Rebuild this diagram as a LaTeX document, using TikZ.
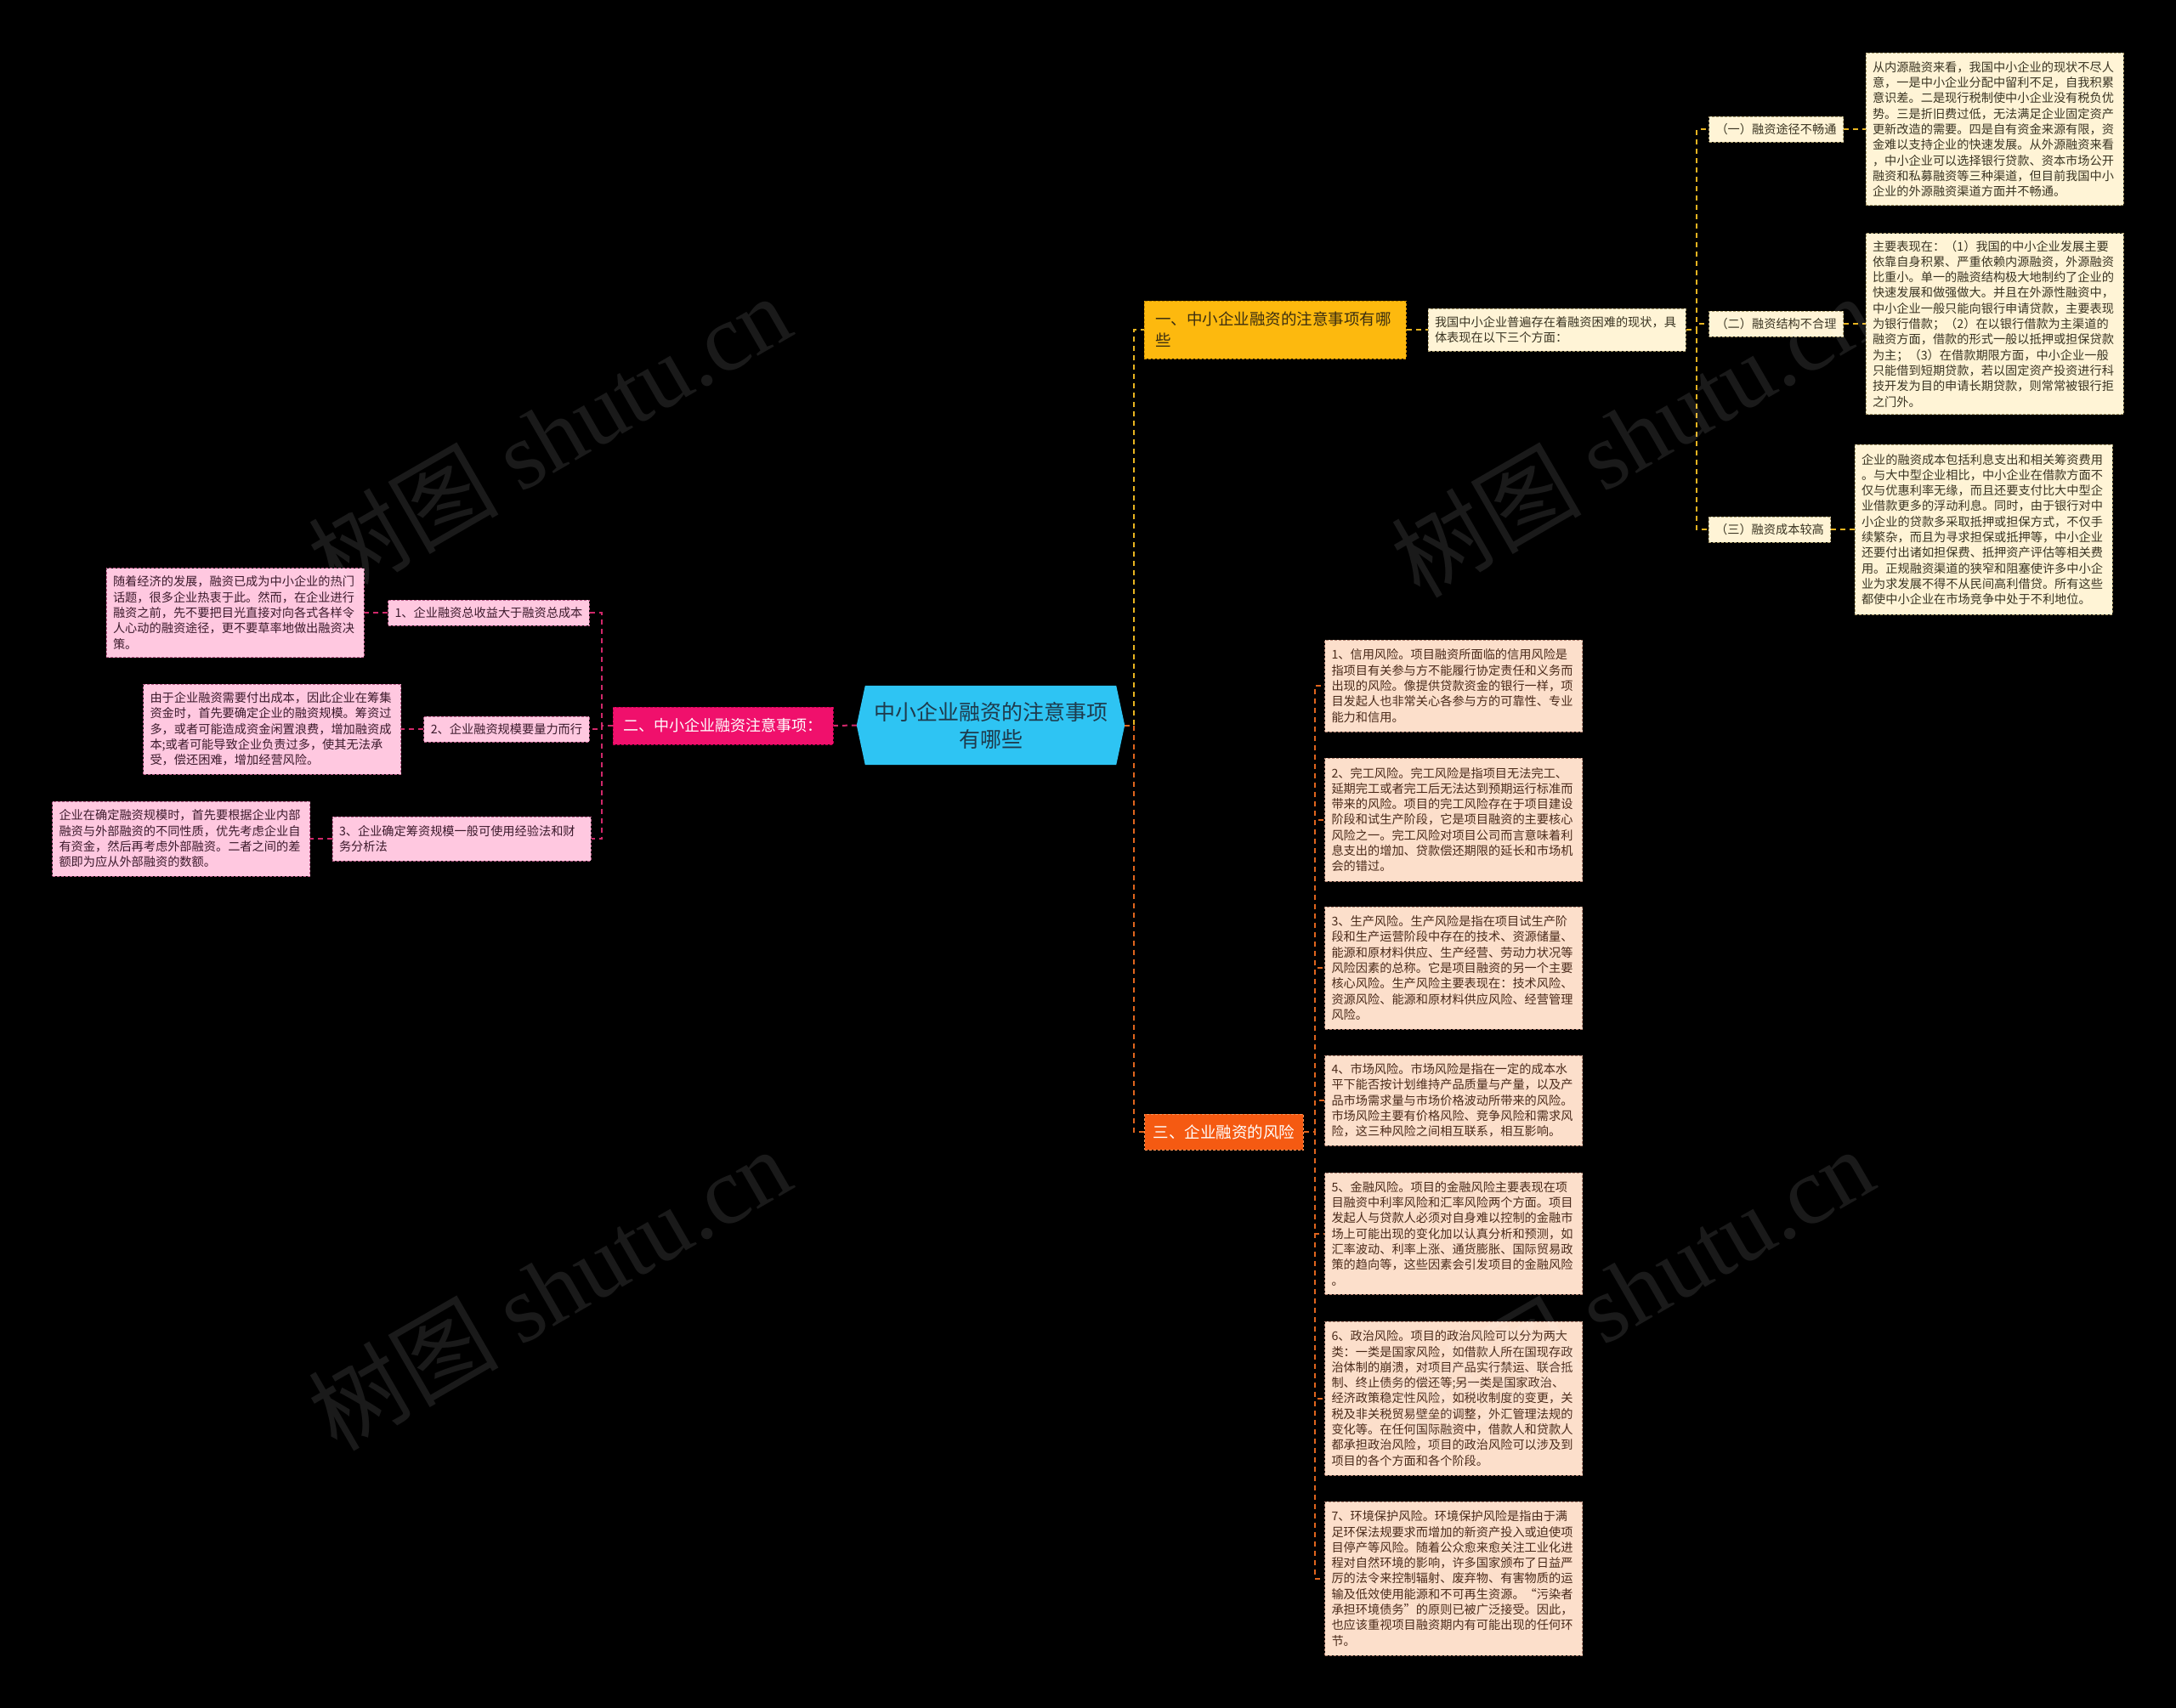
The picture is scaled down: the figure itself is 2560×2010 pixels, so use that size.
\documentclass[tikz,border=0pt]{standalone}
\usepackage{fontspec}
\setmainfont{Noto Sans CJK SC}
\newfontfamily\wmserif{Liberation Serif}
\pgfdeclarelayer{back}
\pgfdeclarelayer{bg}
\pgfsetlayers{back,bg,main}
\definecolor{rootf}{HTML}{2EC4F3}
\definecolor{roott}{HTML}{1E3A4C}
\definecolor{yelf}{HTML}{FDB90E}
\definecolor{yeld}{HTML}{C98A00}
\definecolor{yelt}{HTML}{3B2E10}
\definecolor{magf}{HTML}{F0106C}
\definecolor{magd}{HTML}{B8004C}
\definecolor{redf}{HTML}{F55A12}
\definecolor{redd}{HTML}{FF9455}
\definecolor{pinkf}{HTML}{FFC8E0}
\definecolor{pinkd}{HTML}{B85C88}
\definecolor{pinkt}{HTML}{3C1A2C}
\definecolor{creamf}{HTML}{FFF4D6}
\definecolor{creamd}{HTML}{A89A6C}
\definecolor{creamt}{HTML}{3A3422}
\definecolor{peachf}{HTML}{FCDFCB}
\definecolor{peachd}{HTML}{B08070}
\definecolor{peacht}{HTML}{4A2A1A}
\definecolor{lconc}{HTML}{D0286A}
\definecolor{yconc}{HTML}{E8B420}
\definecolor{oconc}{HTML}{E0651E}
\newcommand\fsmall{\fontsize{14.2}{18.3}\selectfont}
\newcommand\fbranch{\fontsize{18.5}{25}\selectfont}
\begin{document}
\begin{tikzpicture}[x=1pt,y=-1pt,
  every node/.style={inner sep=0pt},
  bx/.style={dash pattern=on 3pt off 2pt, line width=1pt, align=left, inner xsep=8pt},
  detail/.style={bx, text width=287pt, font=\fsmall},
  lbl/.style={bx, font=\fsmall, minimum height=30pt},
  cream/.style={fill=creamf, draw=creamd, text=creamt},
  pink/.style={fill=pinkf, draw=pinkd, text=pinkt},
  peach/.style={fill=peachf, draw=peachd, text=peacht},
  conn/.style={line width=2pt, dash pattern=on 6pt off 5pt},
  lconn/.style={conn, draw=lconc},
  yconn/.style={conn, draw=yconc},
  oconn/.style={conn, draw=oconc},
  wm/.style={rotate=30, text=white, text opacity=0.1, font=\fontsize{112}{116}\selectfont}
]
\begin{pgfonlayer}{back}
\fill[black] (0,0) rectangle (2560,2010);
\end{pgfonlayer}
\useasboundingbox (0,0) rectangle (2560,2010);

% trunk coordinates
\coordinate (ltrunk) at (708,0);
\coordinate (rtrunk) at (1334,0);
\coordinate (ttrunk) at (1996,0);
\coordinate (btrunk) at (1547,0);

% root
\node[minimum width=315pt, minimum height=93pt, align=center, text=roott,
  font=\fontsize{25}{32}\selectfont] (root) at (1165.5,853.5) {中小企业融资的注意事项\\有哪些};
\begin{pgfonlayer}{bg}
\fill[rootf] ([xshift=10pt]root.north west) -- (root.west) -- ([xshift=10pt]root.south west)
  -- ([xshift=-10pt]root.south east) -- (root.east) -- ([xshift=-10pt]root.north east) -- cycle;
\end{pgfonlayer}

% branch 2 (left)
\node[bx, fill=magf, draw=magd, text=white, font=\fontsize{18}{24}\selectfont,
  inner xsep=12.5pt, minimum height=44pt] (b2) at (850.5,854) {二、中小企业融资注意事项：};
\node[lbl, pink] (i1) at (575,721) {1、企业融资总收益大于融资总成本};
\node[lbl, pink] (i2) at (596,858) {2、企业融资规模要量力而行};
\node[bx, pink, font=\fsmall, text width=288pt, minimum height=52pt] (i3) at (543,987)
  {3、企业确定筹资规模一般可使用经验法和财\\务分析法};
\node[detail, pink, minimum height=105pt] (d1) at (276.5,721) {随着经济的发展，融资已成为中小企业的热门\\话题，很多企业热衷于此。然而，在企业进行\\融资之前，先不要把目光直接对向各式各样令\\人心动的融资途径，更不要草率地做出融资决\\策。};
\node[detail, pink, minimum height=106pt] (d2) at (320,858) {由于企业融资需要付出成本，因此企业在筹集\\资金时，首先要确定企业的融资规模。筹资过\\多，或者可能造成资金闲置浪费，增加融资成\\本;或者可能导致企业负责过多，使其无法承\\受，偿还困难，增加经营风险。};
\node[detail, pink, minimum height=88pt] (d3) at (213,987) {企业在确定融资规模时，首先要根据企业内部\\融资与外部融资的不同性质，优先考虑企业自\\有资金，然后再考虑外部融资。二者之间的差\\额即为应从外部融资的数额。};

% branch 1 (top right)
\node[bx, fill=yelf, draw=yeld, text=yelt, font=\fbranch, text width=282pt,
  inner xsep=13pt, minimum height=68pt] (b1) at (1500,388) {一、中小企业融资的注意事项有哪\\些};
\node[detail, cream, minimum height=50pt] (t1) at (1831.5,388) {我国中小企业普遍存在着融资困难的现状，具\\体表现在以下三个方面：};
\node[lbl, cream] (a1) at (2089.5,152) {（一）融资途径不畅通};
\node[lbl, cream] (a2) at (2089.5,381) {（二）融资结构不合理};
\node[lbl, cream] (a3) at (2082,623) {（三）融资成本较高};
\node[detail, cream, minimum height=179pt] (dA) at (2346.5,152) {从内源融资来看，我国中小企业的现状不尽人\\意，一是中小企业分配中留利不足，自我积累\\意识差。二是现行税制使中小企业没有税负优\\势。三是折旧费过低，无法满足企业固定资产\\更新改造的需要。四是自有资金来源有限，资\\金难以支持企业的快速发展。从外源融资来看\\，中小企业可以选择银行贷款、资本市场公开\\融资和私募融资等三种渠道，但目前我国中小\\企业的外源融资渠道方面并不畅通。};
\node[detail, cream, minimum height=213pt] (dB) at (2346.5,381) {主要表现在：（1）我国的中小企业发展主要\\依靠自身积累、严重依赖内源融资，外源融资\\比重小。单一的融资结构极大地制约了企业的\\快速发展和做强做大。并且在外源性融资中，\\中小企业一般只能向银行申请贷款，主要表现\\为银行借款；（2）在以银行借款为主渠道的\\融资方面，借款的形式一般以抵押或担保贷款\\为主；（3）在借款期限方面，中小企业一般\\只能借到短期贷款，若以固定资产投资进行科\\技开发为目的申请长期贷款，则常常被银行拒\\之门外。};
\node[detail, cream, minimum height=200pt] (dC) at (2333.5,623) {企业的融资成本包括利息支出和相关筹资费用\\。与大中型企业相比，中小企业在借款方面不\\仅与优惠利率无缘，而且还要支付比大中型企\\业借款更多的浮动利息。同时，由于银行对中\\小企业的贷款多采取抵押或担保方式，不仅手\\续繁杂，而且为寻求担保或抵押等，中小企业\\还要付出诸如担保费、抵押资产评估等相关费\\用。正规融资渠道的狭窄和阻塞使许多中小企\\业为求发展不得不从民间高利借贷。所有这些\\都使中小企业在市场竞争中处于不利地位。};

% branch 3 (bottom right)
\node[bx, fill=redf, draw=redd, text=white, font=\fbranch, inner xsep=10pt,
  minimum height=42pt] (b3) at (1440,1332) {三、企业融资的风险};
\node[detail, peach, minimum height=108pt] (r1) at (1710,807) {1、信用风险。项目融资所面临的信用风险是\\指项目有关参与方不能履行协定责任和义务而\\出现的风险。像提供贷款资金的银行一样，项\\目发起人也非常关心各参与方的可靠性、专业\\能力和信用。};
\node[detail, peach, minimum height=145pt] (r2) at (1710,964.5) {2、完工风险。完工风险是指项目无法完工、\\延期完工或者完工后无法达到预期运行标准而\\带来的风险。项目的完工风险存在于项目建设\\阶段和试生产阶段，它是项目融资的主要核心\\风险之一。完工风险对项目公司而言意味着利\\息支出的增加、贷款偿还期限的延长和市场机\\会的错过。};
\node[detail, peach, minimum height=144pt] (r3) at (1710,1139) {3、生产风险。生产风险是指在项目试生产阶\\段和生产运营阶段中存在的技术、资源储量、\\能源和原材料供应、生产经营、劳动力状况等\\风险因素的总称。它是项目融资的另一个主要\\核心风险。生产风险主要表现在：技术风险、\\资源风险、能源和原材料供应风险、经营管理\\风险。};
\node[detail, peach, minimum height=106pt] (r4) at (1710,1295) {4、市场风险。市场风险是指在一定的成本水\\平下能否按计划维持产品质量与产量，以及产\\品市场需求量与市场价格波动所带来的风险。\\市场风险主要有价格风险、竞争风险和需求风\\险，这三种风险之间相互联系，相互影响。};
\node[detail, peach, minimum height=143pt] (r5) at (1710,1451.5) {5、金融风险。项目的金融风险主要表现在项\\目融资中利率风险和汇率风险两个方面。项目\\发起人与贷款人必须对自身难以控制的金融市\\场上可能出现的变化加以认真分析和预测，如\\汇率波动、利率上涨、通货膨胀、国际贸易政\\策的趋向等，这些因素会引发项目的金融风险\\。};
\node[detail, peach, minimum height=181pt] (r6) at (1710,1645.5) {6、政治风险。项目的政治风险可以分为两大\\类：一类是国家风险，如借款人所在国现存政\\治体制的崩溃，对项目产品实行禁运、联合抵\\制、终止债务的偿还等;另一类是国家政治、\\经济政策稳定性风险，如税收制度的变更，关\\税及非关税贸易壁垒的调整，外汇管理法规的\\变化等。在任何国际融资中，借款人和贷款人\\都承担政治风险，项目的政治风险可以涉及到\\项目的各个方面和各个阶段。};
\node[detail, peach, minimum height=181pt] (r7) at (1710,1857.5) {7、环境保护风险。环境保护风险是指由于满\\足环保法规要求而增加的新资产投入或迫使项\\目停产等风险。随着公众愈来愈关注工业化进\\程对自然环境的影响，许多国家颁布了日益严\\厉的法令来控制辐射、废弃物、有害物质的运\\输及低效使用能源和不可再生资源。“污染者\\承担环境债务”的原则已被广泛接受。因此，\\也应该重视项目融资期内有可能出现的任何环\\节。};

% connectors
\begin{pgfonlayer}{bg}
\draw[lconn] (root.west) -- (b2.east);
\foreach \n in {i1,i2,i3} \draw[lconn] (b2.west) -- (b2.west -| ltrunk) |- (\n.east);
\draw[lconn] (i1.west) -- (d1.east);
\draw[lconn] (i2.west) -- (d2.east);
\draw[lconn] (i3.west) -- (d3.east);
\draw[yconn] (root.east) -- (root.east -| rtrunk) |- (b1.west);
\draw[oconn] (root.east) -- (root.east -| rtrunk) |- (b3.west);
\draw[yconn] (b1.east) -- (t1.west);
\foreach \n in {a1,a2,a3} \draw[yconn] (t1.east) -- (t1.east -| ttrunk) |- (\n.west);
\draw[yconn] (a1.east) -- (dA.west);
\draw[yconn] (a2.east) -- (dB.west);
\draw[yconn] (a3.east) -- (dC.west);
\foreach \n in {r1,r2,r3,r4,r5,r6,r7} \draw[oconn] (b3.east) -- (b3.east -| btrunk) |- (\n.west);
\end{pgfonlayer}

% watermarks
\node[wm] (w1) at (646,512) {树图 {\wmserif shutu.cn}};
\node[wm] (w2) at (1920,512) {树图 {\wmserif shutu.cn}};
\node[wm] (w3) at (646,1516) {树图 {\wmserif shutu.cn}};
\node[wm] (w4) at (1920,1516) {树图 {\wmserif shutu.cn}};
\end{tikzpicture}
\end{document}
